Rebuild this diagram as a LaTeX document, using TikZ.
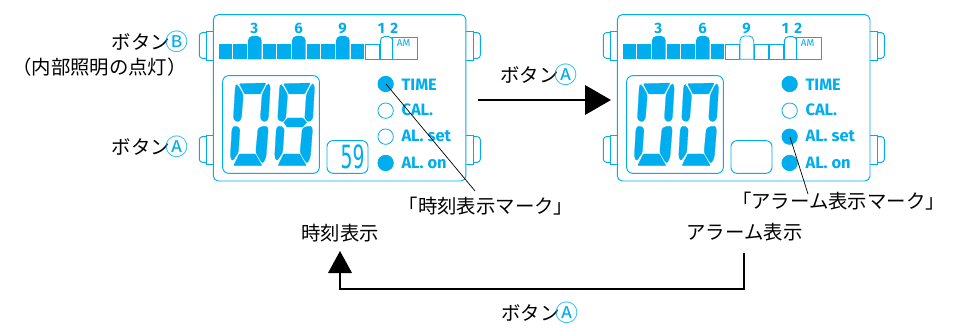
\documentclass[tikz,border=0pt]{standalone}
\usepackage{fontspec}
\setmainfont{Noto Sans CJK JP}
\newfontfamily\latinfont{Fira Sans}[BoldFont={Fira Sans Bold}]
\newfontfamily\monofont{DejaVu Sans Mono}
\definecolor{lcd}{RGB}{0,174,239}
\newcommand{\keymark}[1]{\hspace*{-4pt}{\fontsize{23}{22}\selectfont\textcolor{lcd}{\raisebox{-1.4pt}{#1}}}}
\tikzset{
  lcdline/.style={draw=lcd,line width=0.95pt},
  lcdfill/.style={fill=lcd},
  lcdseg/.style={fill=lcd,draw=lcd,line width=0.25pt},
  lamp/.style={circle,minimum size=15.4pt,inner sep=0pt,line width=0.8pt,draw=lcd},
  lampon/.style={lamp,fill=lcd},
  lamptext/.style={anchor=base west,inner sep=0pt,text=lcd,font=\latinfont\bfseries\fontsize{16.5}{16}\selectfont},
  hourtext/.style={anchor=base,inner sep=0pt,text=lcd,font=\latinfont\bfseries\fontsize{15}{15}\selectfont},
  jp/.style={inner sep=0pt,font=\fontsize{19.4}{22}\selectfont,text=black},
  leader/.style={draw=black,line width=0.7pt},
  flow/.style={draw=black,line width=2.3pt}
}
\newcommand{\seglow}[2]{\path[#2] ({86+44*#1},133) rectangle ({127+44*#1},178);}
\newcommand{\segtall}[2]{\path[#2] ({86+44*#1},178) -- ({86+44*#1},122) to[out=90,in=180] ({99+44*#1},108) -- ({114+44*#1},108) to[out=0,in=90] ({127+44*#1},122) -- ({127+44*#1},178) -- cycle;}
\newcommand{\digitzero}[1]{
 \begin{scope}[xshift=#1*0.3333pt]
 \path[lcdseg,rounded corners=0.8pt] (148,251) -- (228,249) -- (211,282) -- (164,282) -- cycle;
 \path[lcdseg,rounded corners=2.5pt] (142,253) -- (160,284) -- (154,358) -- (143,367) -- (130,358) -- (136,258) -- cycle;
 \path[lcdseg,rounded corners=2.5pt] (233,250) -- (241,258) -- (235,358) -- (223,367) -- (211,358) -- (216,284) -- cycle;
 \path[lcdseg,rounded corners=2.5pt] (136,377) -- (150,384) -- (145,458) -- (127,484) -- (121,470) -- (126,384) -- cycle;
 \path[lcdseg,rounded corners=2.5pt] (225,377) -- (235,384) -- (228,472) -- (218,492) -- (197,458) -- (204,384) -- cycle;
 \path[lcdseg,rounded corners=0.8pt] (148,462) -- (196,462) -- (216,497) -- (131,497) -- cycle;
 \end{scope}}
\newcommand{\digitmiddle}[1]{
 \begin{scope}[xshift=#1*0.3333pt]
 \filldraw[fill=lcd,draw=white,line width=0.6pt] (146,367) -- (160,352) -- (206,352) -- (220,367) -- (206,383) -- (157,383) -- cycle;
 \end{scope}}
\newcommand{\watchbody}{
 \draw[lcdline,rounded corners=5pt] (70,44) rectangle (828,543);
 \foreach \yy in {0,312}{
  \draw[lcdline] (70,{93+\yy}) -- (48,{93+\yy}) -- (48,{180+\yy}) -- (70,{180+\yy});
  \draw[lcdline,rounded corners=3pt] (48,{98+\yy}) -- (28,{98+\yy}) -- (28,{175+\yy}) -- (48,{175+\yy});
  \draw[lcdline] (828,{93+\yy}) -- (850,{93+\yy}) -- (850,{180+\yy}) -- (828,{180+\yy});
  \draw[lcdline,rounded corners=3pt] (850,{98+\yy}) -- (871,{98+\yy}) -- (871,{175+\yy}) -- (850,{175+\yy});
 }
 \draw[lcdline,rounded corners=6pt] (98,227) rectangle (388,520);
 \draw[lcdline,rounded corners=6pt] (411,422) rectangle (534,520);
}
\newcommand{\hourlabels}{
 \foreach \tx/\xx in {3/193,6/326,9/458}{
  \node[hourtext] at (\xx,102) {\tx};}
 \node[hourtext] at (594,102) {1\hspace{5.5pt}2};
 \node[inner sep=0pt,anchor=base,text=lcd,font=\latinfont\fontsize{10}{10}\selectfont] at (641,140) {AM};
 \draw[lcdline] (571,178) -- (571,122) to[out=90,in=180] (584,110) -- (596,110) to[out=0,in=90] (608,122) -- (608,178);
 \draw[lcdline] (608,111) rectangle (683,178);
 \draw[lcdline] (571,178) -- (608,178);
}
\newcommand{\lamplabels}{
 \node[lamptext] at (634,272) {TIME};
 \node[lamptext] at (634,348) {CAL.};
 \node[lamptext] at (634,426) {AL. set};
 \node[lamptext] at (634,505) {AL. on};
}
\begin{document}
\begin{tikzpicture}[x=1pt,y=-1pt]
\useasboundingbox (0,0) rectangle (954,329);
\fill[white] (0,0) rectangle (954,329);
\begin{scope}[shift={(190,0)},x=0.3333pt,y=-0.3333pt]
 \watchbody
 \foreach \i in {0,1,3,4,6,7,9}{\seglow{\i}{lcdfill}}
 \foreach \i in {2,5,8}{\segtall{\i}{lcdfill}}
 \path[lcdline,line width=0.8pt] (526,134) rectangle (567,178);
 \hourlabels
 \digitzero{0}\digitzero{133}\digitmiddle{133}
 \node[lampon] (timeL) at (587,252) {};
 \node[lamp] (calL) at (587,332) {};
 \node[lamp] (setL) at (587,410) {};
 \node[lampon] (onL) at (587,489) {};
 \lamplabels
 \node[inner sep=0pt,anchor=center,xscale=0.62,text=lcd,font=\monofont\fontsize{32}{32}\selectfont] (secs) at (488,471) {59};
\end{scope}
\begin{scope}[shift={(594,0)},x=0.3333pt,y=-0.3333pt]
 \watchbody
 \foreach \i in {0,1,3,4,6}{\seglow{\i}{lcdfill}}
 \foreach \i in {2,5}{\segtall{\i}{lcdfill}}
 \foreach \i in {7,9,10}{\path[lcdline,line width=0.8pt] ({86+44*\i},134) rectangle ({127+44*\i},178);}
 \segtall{8}{lcdline,line width=0.8pt}
 \hourlabels
 \digitzero{0}\digitzero{133}
 \node[lampon] (timeR) at (587,252) {};
 \node[lamp] (calR) at (587,332) {};
 \node[lampon] (setR) at (587,410) {};
 \node[lampon] (onR) at (587,489) {};
 \lamplabels
\end{scope}
\node[jp,anchor=east] (btnB) at (189,42) {ボタン\keymark{Ⓑ}};
\node[jp,anchor=center] (light) at (99.5,67) {（内部照明の点灯）};
\node[jp,anchor=east] (btnAL) at (189,147) {ボタン\keymark{Ⓐ}};
\node[jp,anchor=center] (btnAT) at (539,75) {ボタン\keymark{Ⓐ}};
\node[jp,anchor=center] (markT) at (486,206) {「時刻表示マーク」};
\node[jp,anchor=center] (markA) at (838.5,201) {「アラーム表示マーク」};
\node[jp,anchor=center] (dispT) at (340,233) {時刻表示};
\node[jp,anchor=center] (dispA) at (744.5,232) {アラーム表示};
\node[jp,anchor=center] (btnAB) at (540,313) {ボタン\keymark{Ⓐ}};
\coordinate (lt) at (386,84);
\coordinate (ltb) at (475,191);
\coordinate (la) at (790,137);
\coordinate (lab) at (808,194);
\draw[leader] (lt) -- (ltb);
\draw[leader] (la) -- (lab);
\coordinate (fa) at (478,100);
\coordinate (fb) at (587,100);
\draw[flow] (fa) -- (fb);
\fill[black] (611,100) -- (585,85) -- (585,115) -- cycle;
\coordinate (ra) at (744,253);
\coordinate (rb) at (744,289);
\coordinate (rc) at (340,289);
\coordinate (rd) at (340,270);
\draw[flow] (ra) -- (rb) -- (rc) -- (rd);
\fill[black] (340,251) -- (328,273) -- (352,273) -- cycle;
\end{tikzpicture}
\end{document}
